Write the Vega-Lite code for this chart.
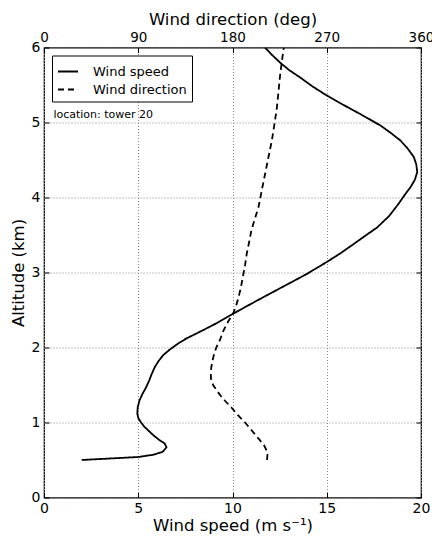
{
  "$schema": "https://vega.github.io/schema/vega-lite/v6.json",
  "width": 377,
  "height": 450,
  "autosize": {"type": "none"},
  "padding": {"left": 44, "top": 47.5, "right": 11, "bottom": 39.5},
  "config": {
    "font": "DejaVu Sans",
    "view": {"stroke": "black", "strokeWidth": 1.2},
    "axis": {
      "labelFontSize": 14,
      "labelColor": "black",
      "labelFlush": false,
      "labelOverlap": false,
      "titleFontSize": 16.5,
      "titleFontWeight": "normal",
      "titleColor": "black",
      "domain": false,
      "tickColor": "black",
      "tickSize": -5,
      "tickWidth": 1,
      "gridColor": "#888888",
      "gridDash": [1, 2],
      "gridWidth": 1
    },
    "legend": {
      "orient": "top-left",
      "offset": 8,
      "strokeColor": "black",
      "fillColor": "white",
      "padding": 5,
      "symbolType": "stroke",
      "symbolSize": 400,
      "symbolStrokeWidth": 1.8,
      "symbolStrokeColor": "black",
      "labelFontSize": 13,
      "labelOffset": 14,
      "labelColor": "black",
      "rowPadding": -2,
      "cornerRadius": 0
    }
  },
  "datasets": {
    "profile": [
      {"series": "Wind speed", "alt": 0.50, "value": 2.0},
      {"series": "Wind speed", "alt": 0.54, "value": 5.0},
      {"series": "Wind speed", "alt": 0.57, "value": 5.8},
      {"series": "Wind speed", "alt": 0.61, "value": 6.3},
      {"series": "Wind speed", "alt": 0.67, "value": 6.5},
      {"series": "Wind speed", "alt": 0.72, "value": 6.4},
      {"series": "Wind speed", "alt": 0.77, "value": 6.1},
      {"series": "Wind speed", "alt": 0.83, "value": 5.8},
      {"series": "Wind speed", "alt": 0.89, "value": 5.55},
      {"series": "Wind speed", "alt": 0.95, "value": 5.3},
      {"series": "Wind speed", "alt": 1.00, "value": 5.15},
      {"series": "Wind speed", "alt": 1.06, "value": 5.0},
      {"series": "Wind speed", "alt": 1.12, "value": 4.95},
      {"series": "Wind speed", "alt": 1.20, "value": 4.97},
      {"series": "Wind speed", "alt": 1.29, "value": 5.06},
      {"series": "Wind speed", "alt": 1.38, "value": 5.22},
      {"series": "Wind speed", "alt": 1.47, "value": 5.42},
      {"series": "Wind speed", "alt": 1.56, "value": 5.58},
      {"series": "Wind speed", "alt": 1.65, "value": 5.72},
      {"series": "Wind speed", "alt": 1.74, "value": 5.88},
      {"series": "Wind speed", "alt": 1.82, "value": 6.08},
      {"series": "Wind speed", "alt": 1.90, "value": 6.33},
      {"series": "Wind speed", "alt": 1.97, "value": 6.66},
      {"series": "Wind speed", "alt": 2.05, "value": 7.1},
      {"series": "Wind speed", "alt": 2.12, "value": 7.55},
      {"series": "Wind speed", "alt": 2.23, "value": 8.43},
      {"series": "Wind speed", "alt": 2.33, "value": 9.2},
      {"series": "Wind speed", "alt": 2.45, "value": 10.03},
      {"series": "Wind speed", "alt": 2.55, "value": 10.75},
      {"series": "Wind speed", "alt": 2.67, "value": 11.63},
      {"series": "Wind speed", "alt": 2.80, "value": 12.6},
      {"series": "Wind speed", "alt": 2.98, "value": 13.94},
      {"series": "Wind speed", "alt": 3.14, "value": 15.0},
      {"series": "Wind speed", "alt": 3.26, "value": 15.75},
      {"series": "Wind speed", "alt": 3.38, "value": 16.43},
      {"series": "Wind speed", "alt": 3.50, "value": 17.1},
      {"series": "Wind speed", "alt": 3.60, "value": 17.67},
      {"series": "Wind speed", "alt": 3.75, "value": 18.3},
      {"series": "Wind speed", "alt": 3.92, "value": 18.82},
      {"series": "Wind speed", "alt": 4.04, "value": 19.15},
      {"series": "Wind speed", "alt": 4.14, "value": 19.45},
      {"series": "Wind speed", "alt": 4.24, "value": 19.68},
      {"series": "Wind speed", "alt": 4.34, "value": 19.8},
      {"series": "Wind speed", "alt": 4.44, "value": 19.75},
      {"series": "Wind speed", "alt": 4.54, "value": 19.62},
      {"series": "Wind speed", "alt": 4.65, "value": 19.3},
      {"series": "Wind speed", "alt": 4.76, "value": 18.91},
      {"series": "Wind speed", "alt": 4.86, "value": 18.4},
      {"series": "Wind speed", "alt": 4.96, "value": 17.85},
      {"series": "Wind speed", "alt": 5.06, "value": 17.15},
      {"series": "Wind speed", "alt": 5.16, "value": 16.43},
      {"series": "Wind speed", "alt": 5.26, "value": 15.7},
      {"series": "Wind speed", "alt": 5.36, "value": 15.0},
      {"series": "Wind speed", "alt": 5.48, "value": 14.25},
      {"series": "Wind speed", "alt": 5.60, "value": 13.59},
      {"series": "Wind speed", "alt": 5.70, "value": 13.0},
      {"series": "Wind speed", "alt": 5.80, "value": 12.52},
      {"series": "Wind speed", "alt": 5.90, "value": 12.1},
      {"series": "Wind speed", "alt": 6.00, "value": 11.72},
      {"series": "Wind direction", "alt": 0.50, "value": 213},
      {"series": "Wind direction", "alt": 0.60, "value": 213.5},
      {"series": "Wind direction", "alt": 0.70, "value": 210},
      {"series": "Wind direction", "alt": 0.80, "value": 204},
      {"series": "Wind direction", "alt": 0.90, "value": 198},
      {"series": "Wind direction", "alt": 1.00, "value": 192},
      {"series": "Wind direction", "alt": 1.10, "value": 185},
      {"series": "Wind direction", "alt": 1.20, "value": 179},
      {"series": "Wind direction", "alt": 1.29, "value": 172.8},
      {"series": "Wind direction", "alt": 1.36, "value": 168.5},
      {"series": "Wind direction", "alt": 1.43, "value": 164.8},
      {"series": "Wind direction", "alt": 1.50, "value": 161.5},
      {"series": "Wind direction", "alt": 1.58, "value": 159.5},
      {"series": "Wind direction", "alt": 1.66, "value": 159.2},
      {"series": "Wind direction", "alt": 1.74, "value": 159.8},
      {"series": "Wind direction", "alt": 1.82, "value": 160.8},
      {"series": "Wind direction", "alt": 1.90, "value": 162.2},
      {"series": "Wind direction", "alt": 2.00, "value": 164.5},
      {"series": "Wind direction", "alt": 2.10, "value": 168},
      {"series": "Wind direction", "alt": 2.23, "value": 171.5},
      {"series": "Wind direction", "alt": 2.35, "value": 176},
      {"series": "Wind direction", "alt": 2.45, "value": 180.5},
      {"series": "Wind direction", "alt": 2.56, "value": 183.5},
      {"series": "Wind direction", "alt": 2.67, "value": 185.8},
      {"series": "Wind direction", "alt": 2.80, "value": 188},
      {"series": "Wind direction", "alt": 2.98, "value": 190.4},
      {"series": "Wind direction", "alt": 3.10, "value": 192},
      {"series": "Wind direction", "alt": 3.25, "value": 193.6},
      {"series": "Wind direction", "alt": 3.40, "value": 195.8},
      {"series": "Wind direction", "alt": 3.56, "value": 198},
      {"series": "Wind direction", "alt": 3.70, "value": 201},
      {"series": "Wind direction", "alt": 3.87, "value": 204.8},
      {"series": "Wind direction", "alt": 4.10, "value": 208},
      {"series": "Wind direction", "alt": 4.32, "value": 211.2},
      {"series": "Wind direction", "alt": 4.55, "value": 214.5},
      {"series": "Wind direction", "alt": 4.76, "value": 217.6},
      {"series": "Wind direction", "alt": 5.00, "value": 220.3},
      {"series": "Wind direction", "alt": 5.20, "value": 222.4},
      {"series": "Wind direction", "alt": 5.45, "value": 224.2},
      {"series": "Wind direction", "alt": 5.65, "value": 225.6},
      {"series": "Wind direction", "alt": 5.85, "value": 227.5},
      {"series": "Wind direction", "alt": 6.00, "value": 229}
    ]
  },
  "layer": [
    {
      "data": {"name": "profile"},
      "transform": [{"filter": "datum.series === 'Wind speed'"}],
      "mark": {"type": "line", "color": "black", "strokeWidth": 1.8, "clip": true},
      "encoding": {
        "x": {
          "field": "value", "type": "quantitative",
          "scale": {"domain": [0, 20], "nice": false, "zero": false},
          "axis": {"orient": "bottom", "title": "Wind speed (m s⁻¹)", "values": [0, 5, 10, 15, 20], "grid": true, "labelPadding": 9, "titlePadding": 2}
        },
        "y": {
          "field": "alt", "type": "quantitative",
          "scale": {"domain": [0, 6], "nice": false, "zero": false},
          "axis": {"orient": "left", "title": "Altitude (km)", "values": [0, 1, 2, 3, 4, 5, 6], "grid": true, "labelPadding": 9, "titlePadding": 5}
        },
        "order": {"field": "alt", "type": "quantitative"},
        "strokeDash": {
          "field": "series", "type": "nominal",
          "scale": {"domain": ["Wind speed", "Wind direction"], "range": [[1, 0], [6, 4]]},
          "legend": {"title": null}
        }
      }
    },
    {
      "data": {"name": "profile"},
      "transform": [{"filter": "datum.series === 'Wind direction'"}],
      "mark": {"type": "line", "color": "black", "strokeWidth": 1.8, "clip": true},
      "encoding": {
        "x": {
          "field": "value", "type": "quantitative",
          "scale": {"domain": [0, 360], "nice": false, "zero": false},
          "axis": {"orient": "top", "title": "Wind direction (deg)", "values": [0, 90, 180, 270, 360], "grid": false, "labelPadding": 8, "labelFontSize": 13.5, "titlePadding": 3}
        },
        "y": {
          "field": "alt", "type": "quantitative",
          "scale": {"domain": [0, 6], "nice": false, "zero": false},
          "axis": {"orient": "right", "title": null, "labels": false, "values": [0, 1, 2, 3, 4, 5, 6], "grid": false}
        },
        "order": {"field": "alt", "type": "quantitative"},
        "strokeDash": {
          "field": "series", "type": "nominal",
          "scale": {"domain": ["Wind speed", "Wind direction"], "range": [[1, 0], [6, 4]]},
          "legend": {"title": null}
        }
      }
    },
    {
      "data": {"values": [{"label": "location: tower 20"}]},
      "mark": {"type": "text", "align": "left", "baseline": "middle", "fontSize": 11, "color": "black"},
      "encoding": {
        "x": {"datum": 0.5, "type": "quantitative", "scale": {"domain": [0, 20], "nice": false, "zero": false}, "axis": null},
        "y": {"datum": 5.1, "type": "quantitative", "scale": {"domain": [0, 6], "nice": false, "zero": false}, "axis": null},
        "text": {"field": "label"}
      }
    }
  ],
  "resolve": {"scale": {"x": "independent", "y": "independent"}}
}
